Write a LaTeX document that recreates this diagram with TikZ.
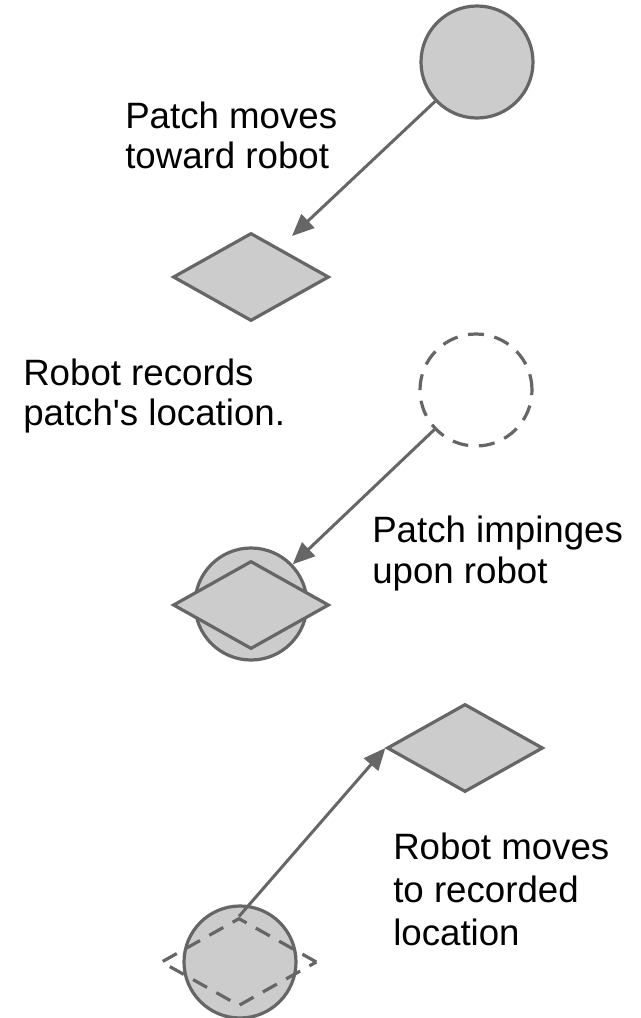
\documentclass[tikz,border=0pt]{standalone}
\usepackage{fontspec}
\setmainfont{Liberation Sans}
\usetikzlibrary{arrows.meta,shapes.geometric}
\definecolor{shapefill}{HTML}{CCCCCC}
\definecolor{shapeline}{HTML}{666666}

\begin{document}
\begin{tikzpicture}[x=0.75pt,y=-0.75pt,
        patch/.style={circle, draw=shapeline, fill=shapefill, line width=2.4pt,
                      minimum size=84pt, inner sep=0pt},
        robot/.style={diamond, draw=shapeline, fill=shapefill, line width=2.4pt,
                      minimum width=117pt, minimum height=66pt, inner sep=0pt},
        ghost/.style={fill=none, dash pattern=on 12pt off 8pt},
        move/.style={draw=shapeline, line width=2.25pt,
                     -{Triangle[length=16.5pt,width=14pt]}},
        caption/.style={anchor=base west, align=left, inner sep=0pt,
                        font=\fontsize{27.5}{30}\selectfont}]
    \useasboundingbox (0,0) rectangle (640,1018);

    % patch moves toward robot
    \node (patchA) at (477,62) [patch] {};
    \node (robotA) at (251,277) [robot] {};
    \coordinate (tipA) at (292,236);
    \draw[move] (patchA) -- (tipA);
    \node (noteA) at (125,168) [caption] {Patch moves\\toward robot};

    % robot records patch's location
    \node (patchB) at (476,390) [patch, ghost] {};
    \node (noteB) at (23,425) [caption] {Robot records\\patch\textquotesingle s location.};

    % patch impinges upon robot
    \node (patchC) at (251,604) [patch] {};
    \node (robotC) at (251,605) [robot] {};
    \draw[move] (patchB) -- (patchC);
    \node (noteC) at (372,583) [caption, font=\fontsize{27.5}{30.75}\selectfont] {Patch impinges\\upon robot};

    % robot moves to recorded location
    \node (patchD) at (240,962) [patch] {};
    \node (robotD) at (239,962) [robot, ghost] {};
    \node (robotE) at (465,748) [robot] {};
    \draw[move] (robotD.north) -- (robotE.west);
    \node (noteD) at (393,945) [caption, font=\fontsize{27.5}{32.25}\selectfont] {Robot moves\\to recorded\\location};
\end{tikzpicture}
\end{document}
